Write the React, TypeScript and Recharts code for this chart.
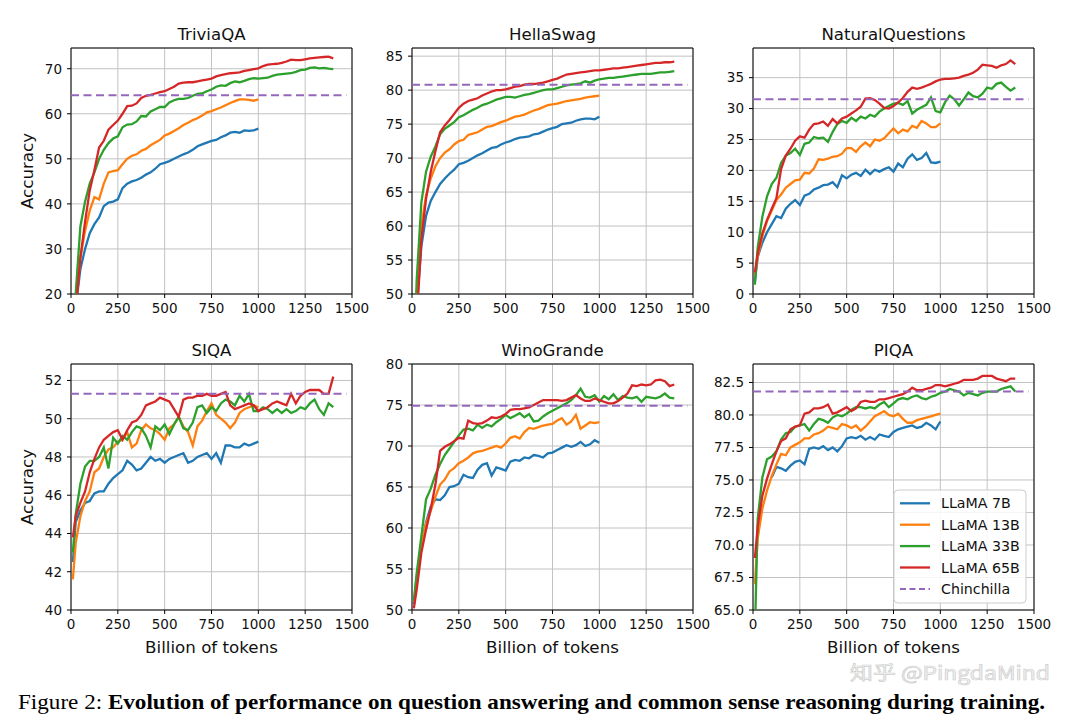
import React from 'react';
import { LineChart, Line, XAxis, YAxis, CartesianGrid, ReferenceLine, ReferenceArea } from 'recharts';

// Billion of tokens (checkpoints)
const TOKENS = [10, 25, 50, 75, 100, 125, 150, 175, 200, 225, 250, 275, 300, 325, 350, 375, 400, 425, 450, 475, 500, 525, 550, 575, 600, 625, 650, 675, 700, 725, 750, 775, 800, 825, 850, 875, 900, 925, 950, 975, 1000, 1025, 1050, 1075, 1100, 1125, 1150, 1175, 1200, 1225, 1250, 1275, 1300, 1325, 1350, 1375, 1400];
const X_TICKS = [0, 250, 500, 750, 1000, 1250, 1500];

// TriviaQA
const TRIVIAQA_7B = [5, 17, 25.5, 30, 33.5, 35.5, 37, 39.5, 40.3, 40.5, 41, 43.5, 44.5, 45, 45.3, 45.8, 46.5, 47, 47.8, 48.8, 49.1, 49.5, 50, 50.5, 51, 51.4, 52, 52.8, 53.2, 53.6, 54, 54.2, 54.8, 55.2, 55.8, 56, 55.8, 56.3, 56.2, 56.3, 56.7];
const TRIVIAQA_13B = [5, 18, 28, 34, 38.5, 41.5, 41, 44.5, 47, 47.3, 47.5, 48.8, 50, 50.7, 51, 51.8, 52.2, 53, 53.6, 54.2, 55.2, 55.6, 56.2, 56.8, 57.5, 58, 58.6, 59, 59.6, 60.3, 60.6, 61, 61.4, 61.9, 62.4, 62.8, 63.2, 63.2, 63.1, 62.9, 63.2];
const TRIVIAQA_33B = [8, 20, 35, 40.5, 44.5, 47, 50, 52, 53.5, 54.5, 55, 57, 57.6, 57.7, 58.3, 59.5, 59.4, 60.5, 61, 61.5, 61.5, 62.5, 63, 63.3, 63.3, 63.5, 64, 64.4, 64.5, 65, 65.4, 66, 66.3, 66.2, 66.8, 67.2, 67, 67.3, 67.7, 67.9, 67.8, 67.9, 68, 68.4, 68.7, 68.8, 68.9, 69, 69.3, 69.7, 69.8, 70.2, 70.3, 70.1, 70.2, 70, 69.9];
const TRIVIAQA_65B = [5, 16, 28, 36, 43, 47.5, 52.5, 54, 56.5, 57.5, 58.5, 60, 61.7, 61.8, 62.3, 63.5, 64, 64.2, 64.5, 64.8, 65, 65.5, 66, 66.7, 66.9, 67, 67, 67.2, 67.4, 67.6, 67.8, 68.3, 68.6, 68.8, 69, 69.1, 69.2, 69.5, 69.7, 69.9, 70.1, 70.6, 70.9, 71, 71.1, 71.3, 71.6, 72, 71.9, 71.9, 72.1, 72.3, 72.4, 72.5, 72.6, 72.7, 72.3];

// HellaSwag
const HELLASWAG_7B = [35, 48, 57, 61.5, 63.7, 65, 66.2, 67, 67.7, 68.3, 69.1, 69.3, 69.6, 70, 70.4, 70.7, 71.1, 71.5, 71.6, 72, 72.3, 72.5, 72.8, 73, 73.1, 73.2, 73.5, 73.6, 73.9, 74.2, 74.4, 74.6, 75, 75.1, 75.2, 75.5, 75.7, 75.8, 75.8, 75.7, 76.1];
const HELLASWAG_13B = [35, 49, 60, 64.5, 67, 68.8, 70, 70.8, 71.3, 72, 72.5, 72.7, 73.4, 73.6, 73.8, 74.2, 74.6, 74.7, 75, 75.3, 75.5, 75.8, 76.1, 76.2, 76.4, 76.7, 77, 77.2, 77.5, 77.8, 77.9, 78, 78.2, 78.4, 78.5, 78.6, 78.7, 78.9, 79, 79.1, 79.2];
const HELLASWAG_33B = [40, 52, 63.5, 68, 70.2, 71.7, 73.5, 74.3, 74.8, 75.3, 76, 76.3, 76.7, 77.1, 77.4, 77.8, 78, 78.3, 78.6, 78.8, 79, 79, 78.9, 79.1, 79.3, 79.4, 79.6, 79.8, 80, 80.1, 80.1, 80.3, 80.5, 80.7, 80.8, 80.9, 81, 81.3, 81.1, 81.4, 81.6, 81.7, 81.8, 81.8, 81.9, 82, 82.1, 82.2, 82.3, 82.4, 82.4, 82.4, 82.5, 82.6, 82.6, 82.7, 82.8];
const HELLASWAG_65B = [33, 46, 58, 64, 68, 71, 73.8, 74.8, 75.6, 76.5, 77.4, 78, 78.4, 78.6, 78.8, 79.2, 79.5, 79.8, 80, 80, 80.1, 80.3, 80.5, 80.6, 80.8, 80.9, 80.9, 81, 81.1, 81.3, 81.5, 81.7, 82, 82.3, 82.4, 82.5, 82.6, 82.7, 82.8, 82.9, 82.9, 83, 83.1, 83.2, 83.2, 83.3, 83.4, 83.5, 83.6, 83.7, 83.8, 83.9, 84, 84, 84.1, 84.1, 84.2];

// NaturalQuestions
const NQ_7B = [2, 6, 8.3, 10, 11.3, 12.6, 12.3, 13.8, 14.6, 15.2, 14.4, 15.9, 16.2, 16.9, 17.2, 17.6, 17.7, 18.1, 17.3, 19.2, 18.7, 19.3, 19.6, 19.1, 20.1, 19.4, 20.1, 19.8, 20.2, 20.5, 19.8, 21.1, 20.5, 21.9, 22.6, 21.7, 22, 22.8, 21.3, 21.2, 21.4];
const NQ_13B = [3, 6, 9.3, 11.8, 13.5, 15.2, 16.1, 17.2, 17.8, 18.4, 18.5, 19.6, 19.5, 20.3, 21.8, 21.7, 21.9, 22.2, 22.3, 22.7, 23.6, 23.6, 23, 23.9, 24.5, 23.9, 25, 24.8, 25.2, 26, 26.8, 26, 26.6, 26.3, 27.2, 26.9, 28, 27.6, 27, 27, 27.6];
const NQ_33B = [1.5, 7.5, 12.5, 15.8, 17.8, 18.8, 21.2, 22.4, 22.8, 23.5, 22.5, 24.3, 24.5, 25.4, 25.2, 25.3, 24.6, 26.2, 27.5, 28, 27.7, 28.5, 28, 28.7, 28.4, 29, 28.7, 29.5, 30, 30.4, 30.8, 30.9, 30.6, 31.2, 29.2, 29.8, 30.2, 30.6, 31.8, 29.6, 29.4, 31, 32.1, 31.5, 30.5, 31.5, 32.6, 32, 31.8, 32.4, 33.4, 33.2, 34, 34.2, 33.5, 32.9, 33.4];
const NQ_65B = [3.5, 6.5, 9.8, 12, 13.8, 15.5, 20.2, 22.4, 23.5, 24.8, 25.5, 25.3, 26.6, 27.5, 27.6, 27.9, 27.2, 28.3, 27.6, 28.4, 28.7, 29.2, 29.7, 30.3, 31.6, 31.7, 31.4, 30.8, 30.1, 30, 30.4, 31, 31.7, 32.7, 33.4, 33.2, 33.4, 33.7, 34, 34.4, 34.7, 34.8, 34.8, 34.9, 35, 35.3, 35.5, 35.8, 36.3, 37.1, 37, 36.9, 36.6, 37, 37.2, 37.8, 37.2];

// SIQA
const SIQA_7B = [42.5, 44.6, 45.2, 45.6, 45.7, 46.1, 46.2, 46.2, 46.6, 46.9, 47.1, 47.3, 47.8, 47.6, 47.3, 47.4, 47.7, 48, 47.8, 47.9, 47.7, 47.9, 48, 48.1, 48.2, 47.7, 47.8, 48, 48.1, 48.2, 47.9, 48.2, 47.7, 48.6, 48.6, 48.5, 48.5, 48.7, 48.6, 48.7, 48.8];
const SIQA_13B = [41.6, 43.5, 44.9, 45.7, 46.2, 47.2, 47.4, 48, 48.4, 48.5, 48.8, 48.9, 49.3, 48.5, 48.7, 49.4, 49.7, 49.5, 49.4, 49.2, 48.9, 49.5, 49.7, 50.1, 49.6, 49.3, 48.6, 49.6, 49.9, 50.4, 50.8, 50.2, 50, 49.8, 49.5, 49.8, 50.3, 50.5, 50.6, 50.7, 50.6];
const SIQA_33B = [43, 45, 46.6, 47.5, 47.8, 47.8, 48, 48.5, 47.4, 49, 48.7, 49.1, 48.9, 49.3, 49.6, 49.5, 49.1, 48.5, 49.6, 49.4, 49.7, 49.2, 49.7, 50.1, 49.5, 49.4, 49.8, 50.6, 50.7, 50.3, 50.6, 50.4, 50.8, 51, 50.9, 50.7, 51.2, 50.9, 51.3, 50.4, 50.4, 50.6, 50.5, 50.3, 50.5, 50.3, 50.5, 50.3, 50.4, 50.6, 50.5, 50.8, 51, 50.5, 50.2, 50.8, 50.6];
const SIQA_65B = [43.8, 44.9, 45.6, 46.2, 47.2, 47.9, 48.5, 48.9, 49.1, 49.3, 49.4, 48.9, 49.4, 49.8, 49.9, 50.2, 50.7, 50.8, 50.9, 51.1, 51, 50.9, 50.5, 50.1, 51, 51.1, 51.1, 51.2, 51.2, 51.3, 51.2, 51.2, 51.3, 51.4, 50.7, 50.5, 50.6, 50.7, 50.8, 50.7, 50.4, 50.5, 50.6, 50.8, 50.9, 50.8, 50.7, 51.3, 50.8, 51.2, 51.4, 51.5, 51.5, 51.5, 51.3, 51.3, 52.2];

// WinoGrande
const WINOGRANDE_7B = [50.7, 53.5, 57.8, 60.7, 62.6, 63.5, 63.4, 64, 65, 65.1, 65.4, 66.5, 66.2, 66.1, 67.1, 67.7, 67.9, 66.4, 67.4, 67.2, 67, 68.1, 68.3, 68.2, 68.6, 68.5, 68.9, 68.8, 68.6, 69.1, 69.2, 69.5, 69.8, 70.1, 69.9, 70.1, 70.5, 70, 70.2, 70.7, 70.4];
const WINOGRANDE_13B = [51, 54, 58, 60.5, 62.1, 63.8, 65.3, 65.9, 66.9, 67.3, 67.9, 68.2, 68.6, 69.1, 69.3, 69.4, 69.6, 69.8, 70, 69.8, 70.3, 71, 71.2, 70.9, 71.7, 72.2, 72.1, 72.3, 72.5, 72.6, 72.7, 73.1, 73.4, 72.6, 73, 73.8, 72.1, 72.5, 72.9, 72.8, 72.9];
const WINOGRANDE_33B = [51.1, 54.5, 59, 63.5, 64.8, 66.5, 67.8, 68.9, 69.7, 70.5, 71.3, 72, 72.1, 71.9, 72.6, 72.2, 72.6, 72.4, 72.9, 73.3, 73.8, 73.4, 73.7, 74, 73.5, 73.9, 73, 73.1, 73.6, 74, 74.3, 74.6, 74.9, 75.2, 75.6, 76.2, 77, 76, 75.9, 76.2, 75.4, 76.1, 75.7, 76.3, 75.6, 76.1, 75.9, 75.8, 76, 75.4, 76, 75.9, 75.8, 76, 76.4, 75.9, 75.8];
const WINOGRANDE_65B = [50.2, 52.5, 57, 59.8, 62.3, 65.3, 69.4, 69.9, 70.2, 70.6, 71, 70.9, 73.1, 72.8, 72.7, 72.8, 73.1, 73.5, 73.4, 73.6, 73.9, 74.4, 74.5, 74.5, 74.6, 74.7, 75, 75.3, 75.6, 75.6, 75.6, 75.6, 75.5, 75.6, 75.9, 76.2, 75.8, 75.5, 75.5, 75.8, 75.6, 75.4, 75.2, 75.2, 75.5, 75.9, 76.4, 77.4, 77.3, 77.5, 77.4, 77.5, 78, 78.1, 77.9, 77.3, 77.5];

// PIQA
const PIQA_7B = [null, null, null, null, 75.2, 76, 75.9, 75.7, 76.1, 76.4, 76.5, 76.2, 77.4, 77.5, 77.4, 77.6, 77.3, 77.5, 77.2, 77.6, 78.2, 78.3, 78.2, 78.4, 78.1, 78.3, 78.1, 78.5, 78.4, 78.3, 78.7, 78.9, 79, 79.1, 79.2, 79, 79.1, 79.4, 79.2, 78.9, 79.5];
const PIQA_13B = [67, 70.5, 72.8, 74.2, 75.3, 76.2, 77, 76.9, 77.5, 77.7, 77.9, 78.2, 78.2, 78.5, 78.6, 78.8, 79.1, 79, 78.9, 79.3, 79.2, 79, 79.2, 78.8, 79.1, 79.5, 79.9, 80.1, 80.3, 80, 79.9, 80.1, 79.7, 79.4, 79.4, 79.6, 79.7, 79.8, 79.9, 80, 80.1];
const PIQA_33B = [63, 72, 75.2, 76.6, 76.8, 77.2, 78.1, 78.6, 78.7, 79.1, 79.2, 79.3, 78.8, 79.3, 79.7, 79.6, 79.4, 79.8, 80, 79.9, 80.1, 80.4, 80.6, 80.6, 80.5, 80.6, 80.5, 80.8, 81, 80.6, 80.9, 81.2, 81.3, 81.2, 81.4, 81.5, 81.3, 81.2, 81.4, 81.5, 81.7, 81.8, 82, 81.9, 81.8, 81.5, 81.7, 81.6, 81.5, 81.7, 81.8, 81.8, 81.8, 82, 82.1, 82.2, 81.8];
const PIQA_65B = [69, 71.4, 73.8, 75.1, 76.2, 77.2, 78, 78.2, 78.9, 79.1, 79.2, 80.1, 80.2, 80.5, 80.5, 80.6, 80.8, 80.1, 80.2, 80.4, 80.6, 80.3, 80.5, 81, 81.1, 81, 81, 81.2, 81.2, 81.3, 81.4, 81.5, 81.6, 81.8, 82.1, 81.9, 81.9, 82, 82.1, 82.3, 82.3, 82.2, 82.3, 82.4, 82.5, 82.7, 82.7, 82.7, 82.8, 83, 83, 83, 82.8, 82.7, 82.6, 82.8, 82.8];

// Chinchilla reference scores
const CHINCHILLA_TRIVIAQA = 64.1;
const CHINCHILLA_HELLASWAG = 80.8;
const CHINCHILLA_NQ = 31.5;
const CHINCHILLA_SIQA = 51.3;
const CHINCHILLA_WINOGRANDE = 74.9;
const CHINCHILLA_PIQA = 81.8;
const CHINCHILLA_END = 1470;

// Y ticks
const TRIVIAQA_TICKS = [20, 30, 40, 50, 60, 70];
const HELLASWAG_TICKS = [50, 55, 60, 65, 70, 75, 80, 85];
const NQ_TICKS = [0, 5, 10, 15, 20, 25, 30, 35];
const SIQA_TICKS = [40, 42, 44, 46, 48, 50, 52];
const WINOGRANDE_TICKS = [50, 55, 60, 65, 70, 75, 80];
const PIQA_TICKS = [65, 67.5, 70, 72.5, 75, 77.5, 80, 82.5];

const MODELS = [
  { key: 'm7', name: 'LLaMA 7B', color: '#1f77b4' },
  { key: 'm13', name: 'LLaMA 13B', color: '#ff7f0e' },
  { key: 'm33', name: 'LLaMA 33B', color: '#2ca02c' },
  { key: 'm65', name: 'LLaMA 65B', color: '#d62728' },
];
const CHIN_NAME = 'Chinchilla';
const CHIN_COLOR = '#9467bd';

const PANELS = [
  { title: 'TriviaQA', series: [TRIVIAQA_7B, TRIVIAQA_13B, TRIVIAQA_33B, TRIVIAQA_65B], chin: CHINCHILLA_TRIVIAQA, domain: [20, 74.6], ticks: TRIVIAQA_TICKS, col: 0, row: 0, dec: 0 },
  { title: 'HellaSwag', series: [HELLASWAG_7B, HELLASWAG_13B, HELLASWAG_33B, HELLASWAG_65B], chin: CHINCHILLA_HELLASWAG, domain: [50, 86.2], ticks: HELLASWAG_TICKS, col: 1, row: 0, dec: 0 },
  { title: 'NaturalQuestions', series: [NQ_7B, NQ_13B, NQ_33B, NQ_65B], chin: CHINCHILLA_NQ, domain: [0, 39.8], ticks: NQ_TICKS, col: 2, row: 0, dec: 0 },
  { title: 'SIQA', series: [SIQA_7B, SIQA_13B, SIQA_33B, SIQA_65B], chin: CHINCHILLA_SIQA, domain: [40, 52.86], ticks: SIQA_TICKS, col: 0, row: 1, dec: 0 },
  { title: 'WinoGrande', series: [WINOGRANDE_7B, WINOGRANDE_13B, WINOGRANDE_33B, WINOGRANDE_65B], chin: CHINCHILLA_WINOGRANDE, domain: [50, 80], ticks: WINOGRANDE_TICKS, col: 1, row: 1, dec: 0 },
  { title: 'PIQA', series: [PIQA_7B, PIQA_13B, PIQA_33B, PIQA_65B], chin: CHINCHILLA_PIQA, domain: [65, 83.92], ticks: PIQA_TICKS, col: 2, row: 1, dec: 1 },
];

const COL_X = [71, 412, 753];
const ROW_Y = [48, 364];
const PW = 281;
const PH = 246;
const YW = 50;
const MT = 10;
const MR = 20;
const XH = 30;
const FONT = 'DejaVu Sans, Verdana, sans-serif';

function buildRows(series: (number | null)[][]) {
  return TOKENS.map((t, i) => {
    const row: any = { t };
    MODELS.forEach((m, k) => {
      const v = series[k][i];
      row[m.key] = v === undefined ? null : v;
    });
    return row;
  });
}

function Panel({ p }: { p: any }) {
  const left = COL_X[p.col] - YW;
  const top = ROW_Y[p.row] - MT;
  const rows = buildRows(p.series);
  const tickStyle = { fontSize: 13.5, fill: '#111', fontFamily: FONT };
  return (
    <div style={{ position: 'absolute', left, top }}>
      <LineChart width={YW + PW + MR} height={MT + PH + XH} data={rows} margin={{ top: MT, right: MR, bottom: 0, left: 0 }}>
        <CartesianGrid stroke="#c2c2c2" strokeWidth={1} />
        <XAxis
          type="number"
          dataKey="t"
          domain={[0, 1500]}
          ticks={X_TICKS}
          interval={0}
          allowDataOverflow
          axisLine={false}
          tickLine={{ stroke: '#000' }}
          tickSize={4}
          tickMargin={5}
          height={XH}
          tick={tickStyle}
        />
        <YAxis
          type="number"
          domain={p.domain}
          ticks={p.ticks}
          interval={0}
          allowDataOverflow
          axisLine={false}
          tickLine={{ stroke: '#000' }}
          tickSize={4}
          tickMargin={5}
          width={YW}
          tick={tickStyle}
          tickFormatter={(v: number) => (p.dec ? v.toFixed(1) : String(v))}
        />
        {MODELS.map((m) => (
          <Line
            key={m.key}
            type="linear"
            dataKey={m.key}
            name={m.name}
            stroke={m.color}
            strokeWidth={2.3}
            dot={false}
            activeDot={false}
            isAnimationActive={false}
          />
        ))}
        <ReferenceLine
          segment={[{ x: 0, y: p.chin }, { x: CHINCHILLA_END, y: p.chin }]}
          stroke={CHIN_COLOR}
          strokeWidth={2}
          strokeDasharray="8 4.5"
        />
        <ReferenceArea x1={0} x2={1500} y1={p.domain[0]} y2={p.domain[1]} fill="none" fillOpacity={0} stroke="#000" strokeWidth={1} />
      </LineChart>
    </div>
  );
}

export default function App() {
  const legendItems = [...MODELS.map((m) => ({ name: m.name, color: m.color, dash: undefined as any })), { name: CHIN_NAME, color: CHIN_COLOR, dash: '6 3.5' }];
  const LEG_X = 894;
  const LEG_Y = 490;
  const LEG_ROW = 21.4;
  return (
    <div style={{ position: 'absolute', left: 0, top: 0, width: 1080, height: 721, background: '#fff', overflow: 'hidden' }}>
      {PANELS.map((p) => (
        <Panel key={p.title} p={p} />
      ))}
      <svg width={1080} height={721} style={{ position: 'absolute', left: 0, top: 0, pointerEvents: 'none' }}>
        {PANELS.map((p) => (
          <text key={'t' + p.title} x={COL_X[p.col] + PW / 2} y={ROW_Y[p.row] - 8.5} textAnchor="middle" fontFamily={FONT} fontSize={16.6} fill="#111">
            {p.title}
          </text>
        ))}
        {[0, 1].map((r) => (
          <text key={'yl' + r} transform={`translate(33, ${ROW_Y[r] + PH / 2}) rotate(-90)`} textAnchor="middle" fontFamily={FONT} fontSize={16.7} fill="#111">
            Accuracy
          </text>
        ))}
        {[0, 1, 2].map((c) => (
          <text key={'xl' + c} x={COL_X[c] + PW / 2} y={ROW_Y[1] + PH + 43} textAnchor="middle" fontFamily={FONT} fontSize={16.7} fill="#111">
            Billion of tokens
          </text>
        ))}
        <g>
          <rect x={LEG_X} y={LEG_Y} width={132} height={113} rx={4} ry={4} fill="#fff" fillOpacity={0.85} stroke="#cccccc" strokeWidth={1} />
          {legendItems.map((it, i) => {
            const cy = LEG_Y + 13.3 + i * LEG_ROW;
            return (
              <g key={it.name}>
                <line x1={900} x2={930} y1={cy} y2={cy} stroke={it.color} strokeWidth={it.dash ? 2 : 2.3} strokeDasharray={it.dash} />
                <text x={941} y={cy + 5} fontFamily={FONT} fontSize={14.2} fill="#111">
                  {it.name}
                </text>
              </g>
            );
          })}
        </g>
        <text x={850} y={680} fontFamily="'Noto Sans CJK SC', sans-serif" fontSize={19} fill="#f6f6f6" stroke="#cfcfcf" strokeWidth={0.7} textLength={200} lengthAdjust="spacingAndGlyphs">
          知乎 @PingdaMind
        </text>
        <text x={18} y={709} fontFamily="'Liberation Serif', 'Times New Roman', serif" fontSize={21} fill="#000" textLength={1027} lengthAdjust="spacingAndGlyphs">
          <tspan>Figure 2: </tspan>
          <tspan fontWeight="bold">Evolution of performance on question answering and common sense reasoning during training.</tspan>
        </text>
      </svg>
    </div>
  );
}
